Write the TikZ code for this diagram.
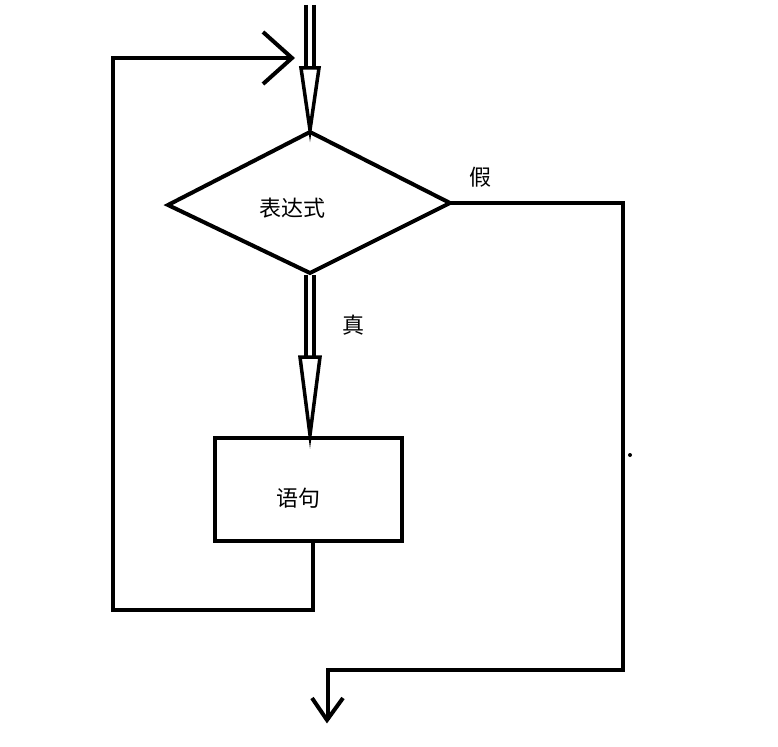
\documentclass[tikz,border=0pt]{standalone}
\usepackage{fontspec}
\newfontfamily\cjk{Noto Sans CJK SC}
\begin{document}
\begin{tikzpicture}[x=1pt,y=-1pt,line width=4pt,
  lbl/.style={font=\cjk\fontsize{22}{26}\selectfont,inner sep=0pt}]
\useasboundingbox (0,0) rectangle (778,746);
% top arrow
\draw[line width=3.5pt] (306,5) -- (306,68) (314,5) -- (314,68);
\draw[line width=3.5pt] (301,68) -- (310,130) -- (319,68) -- cycle;
% diamond
\draw (310,132) coordinate (dt) -- (168,205) coordinate (dl) -- (310,273) coordinate (db) -- (450,203) coordinate (dr) -- cycle;
\node[lbl] (t1) at (292,208) {表达式};
\node[lbl] (t2) at (480,177) {假};
\node[lbl] (t3) at (353,325) {真};
% middle arrow
\draw[line width=3.5pt] (306,275) -- (306,357) (314,275) -- (314,357);
\draw[line width=3.5pt] (300,357) -- (310,435) coordinate (tip) -- (320,357) -- cycle;
% box
\node[draw,line width=4pt,minimum width=187pt,minimum height=103pt,inner sep=0pt] (box) at (308.5,489.5) {};
\node[lbl] (t4) at (298,498) {语句};
% loop back
\draw (313,541) -- (313,610) -- (113,610) -- (113,58) -- (292,58);
\draw (263,32) -- (292,58) -- (263,84);
% false path
\draw (dr) -- (623,203) -- (623,670) -- (328,670) -- (328,720);
\draw (312,698) -- (327,720) -- (343,698);
\fill (630,455) circle (2pt);
\end{tikzpicture}
\end{document}
